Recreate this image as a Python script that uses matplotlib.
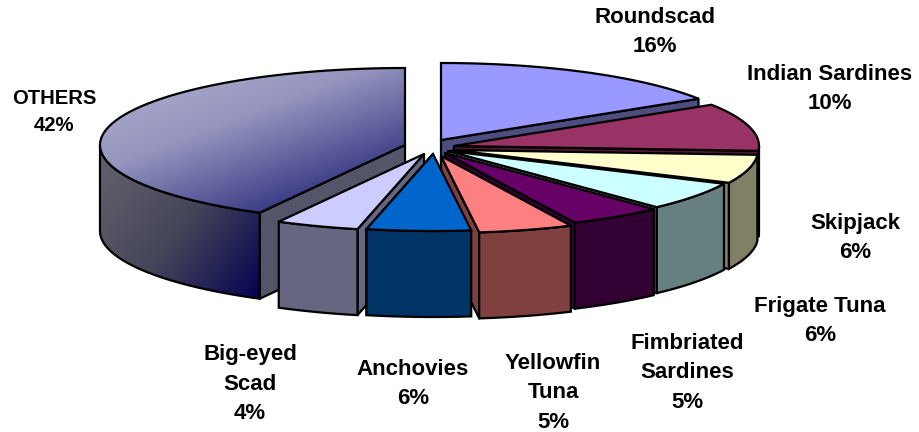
import numpy as np
import matplotlib
matplotlib.use("Agg")
import matplotlib.pyplot as plt
from matplotlib.colors import LinearSegmentedColormap
from matplotlib.patches import Polygon

# data, clockwise from 12 o'clock
names = ["Roundscad", "Indian Sardines", "Skipjack", "Frigate Tuna", "Fimbriated\nSardines",
         "Yellowfin\nTuna", "Anchovies", "Big-eyed\nScad", "OTHERS"]
values = [16, 10, 6, 6, 5, 5, 5.5, 4.4, 42.1]

# styling
top_colors = ["#9999FF", "#993366", "#FFFFCC", "#CCFFFF", "#660066", "#FF8080", "#0066CC", "#CCCCFF", None]
side_colors = ["#4D4D80", "#4D1A33", "#808066", "#668080", "#330033", "#804040", "#003366", "#666680", "#55556A"]
apex_x = [441, 454, 453, 448, 445, 441, 433, 424, 405]
apex_y = [140, 146, 150, 151, 153, 156, 154, 154, 145]
label_x = [655, 830, 855, 820, 687, 553, 413, 250, 54]
label_y = [32, 89, 238, 321, 373, 393, 384, 384, 112]
label_size = [16, 16, 16, 16, 16, 16, 16, 16, 14.6]
draw_order = [0, 1, 2, 3, 4, 5, 8, 7, 6]

RX, RY, DEPTH = 305, 77, 86
LW = 1.6

plt.rcParams['font.family'] = ['Liberation Sans', 'DejaVu Sans']
fig = plt.figure(figsize=(9.19, 4.32), dpi=100)
ax = fig.add_axes([0, 0, 1, 1])
ax.axis('off')


def arc(i, t0, t1):
    t = np.radians(np.linspace(t0, t1, 80))
    return np.column_stack([apex_x[i] + RX * np.sin(t), apex_y[i] - RY * np.cos(t)])


def gradient_fill(patch, fx, stops, z):
    xx, yy = np.meshgrid(np.arange(90, 420), np.arange(55, 310))
    cmap = LinearSegmentedColormap.from_list("g", stops)
    im = ax.imshow(fx(xx, yy), cmap=cmap, vmin=0, vmax=1, extent=(90, 420, 310, 55),
                   aspect='auto', zorder=z, interpolation='bilinear')
    im.set_clip_path(patch)


edges = np.concatenate([[0], np.cumsum(values)]) / np.sum(values) * 360
z = 1
for i in draw_order:
    start, end = edges[i], edges[i + 1]
    apex = np.array([[apex_x[i], apex_y[i]]])
    down = np.array([0, DEPTH])

    # flat cut wall which faces the viewer
    wall_t = end if start < 180 else start
    p = arc(i, wall_t, wall_t)[:1]
    wall = np.vstack([apex, p, p + down, apex + down])
    ax.add_patch(Polygon(wall, closed=True, fc=side_colors[i], ec='black', lw=LW, zorder=z, joinstyle='round'))
    z += 1

    # outer rim, front half only
    t0, t1 = max(start, 90), min(end, 270)
    if t1 > t0:
        rim = arc(i, t0, t1)
        rim_poly = np.vstack([rim, rim[::-1] + down])
        if top_colors[i] is None:
            pt = Polygon(rim_poly, closed=True, fc='none', ec='black', lw=LW, zorder=z + 1)
            ax.add_patch(pt)
            gradient_fill(pt, lambda x, y: np.clip((x - 101) / 162 * 0.6 + (y - 150) / 150 * 0.4, 0, 1),
                          ["#62626C", "#45455A", "#000050"], z)
            z += 2
        else:
            ax.add_patch(Polygon(rim_poly, closed=True, fc=side_colors[i], ec='black', lw=LW, zorder=z))
            z += 1

    # top face
    top = np.vstack([apex, arc(i, start, end)])
    if top_colors[i] is None:
        pt = Polygon(top, closed=True, fc='none', ec='black', lw=LW, zorder=z + 1)
        ax.add_patch(pt)
        gradient_fill(pt, lambda x, y: np.clip((x - 100) / 305 * 0.55 + (y - 66) / 147 * 0.7, 0, 1),
                      ["#B4B4D4", "#9494BE", "#3A3A85"], z)
        z += 2
    else:
        ax.add_patch(Polygon(top, closed=True, fc=top_colors[i], ec='black', lw=LW, zorder=z))
        z += 1

ax.set_xlim(0, 919)
ax.set_ylim(432, 0)

for name, v, x, y, s in zip(names, values, label_x, label_y, label_size):
    ax.text(x, y, "%s\n%.0f%%" % (name, v), ha='center', va='center', fontsize=s,
            fontweight='bold', color='black', linespacing=1.55, zorder=z + 1)

fig.savefig("out.png", dpi=100, facecolor='white')
